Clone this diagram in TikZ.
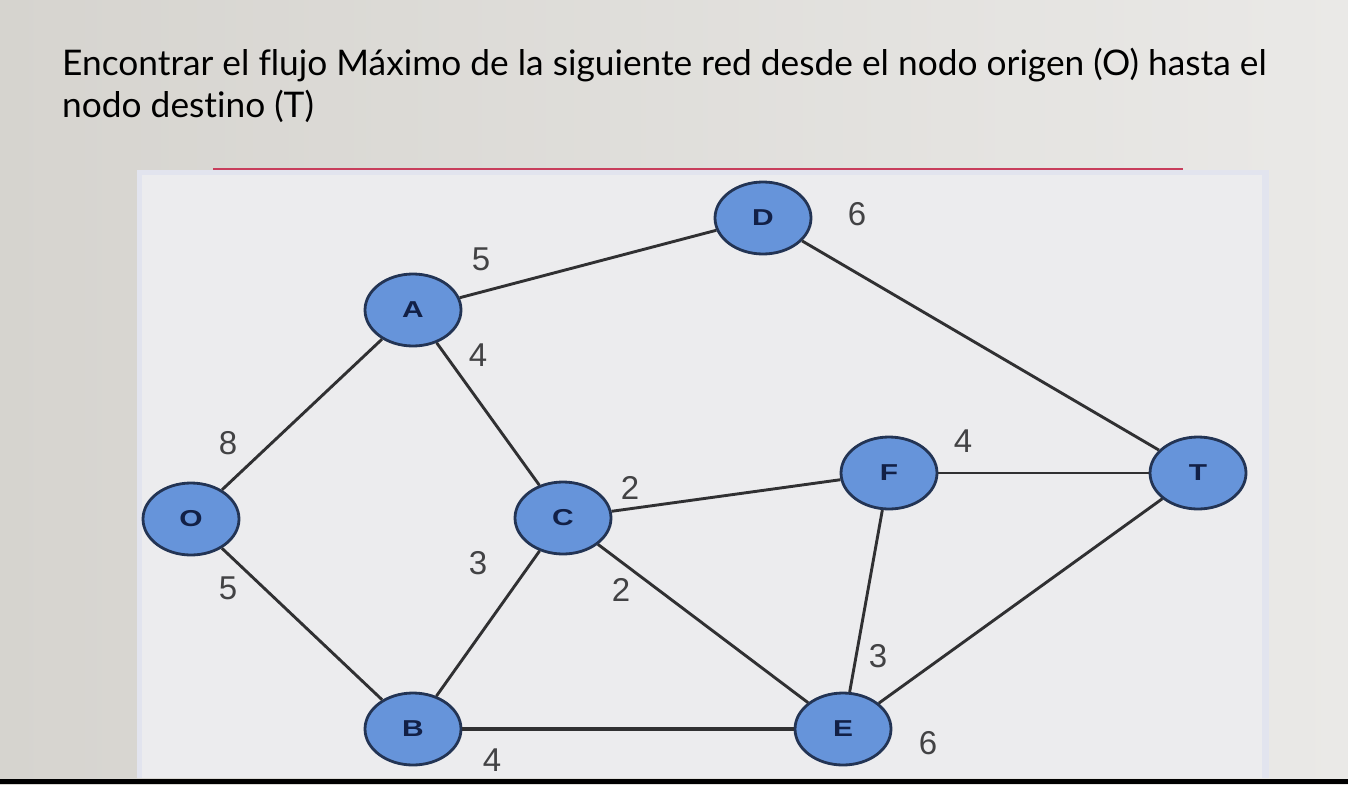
\documentclass[tikz,border=0pt]{standalone}
\usepackage{fontspec}
\setmainfont[Ligatures=NoCommon]{Lato}
\newfontfamily\numfont{Liberation Sans}
\usetikzlibrary{shapes.geometric}
\definecolor{bgL}{RGB}{214,212,207}
\definecolor{bgR}{RGB}{234,233,231}
\definecolor{panel}{RGB}{236,236,238}
\definecolor{panelEdge}{RGB}{226,228,238}
\definecolor{nodefill}{RGB}{102,148,218}
\definecolor{nodeline}{RGB}{35,52,84}
\definecolor{nodetext}{RGB}{18,32,70}
\definecolor{edgecol}{RGB}{48,48,50}
\definecolor{redline}{RGB}{200,62,92}
\definecolor{labcol}{RGB}{66,66,68}
\newcommand{\wideletter}[1]{\scalebox{1.3}[1]{#1}}
\tikzset{
  vert/.style={ellipse, draw=nodeline, line width=2.8pt, fill=nodefill,
    minimum width=96pt, minimum height=72pt, inner sep=0pt,
    font=\numfont\bfseries\fontsize{23}{23}\selectfont, text=nodetext},
  edge/.style={draw=edgecol, line width=2.9pt},
  wt/.style={font=\numfont\fontsize{33}{33}\selectfont, text=labcol, inner sep=0pt},
  title/.style={font=\fontsize{35.3}{44}\selectfont, text=black, anchor=base west, inner sep=0pt}
}
\begin{document}
\begin{tikzpicture}[x=1pt,y=-1pt]
\useasboundingbox (0,0) rectangle (1348,784);
\shade[left color=bgL, right color=bgR] (0,0) rectangle (1348,784);
\fill[panelEdge] (137,170) rectangle (1269,778);
\fill[panel] (142,175) rectangle (1262,778);
\fill[black] (0,779) rectangle (1348,784);
\draw[redline, line width=1.6pt] (213,169) -- (1183,169);
\node[title] (title1) at (62,75) {Encontrar el flujo Máximo de la siguiente red desde el nodo origen (O) hasta el};
\node[title] (title2) at (62,117) {nodo destino (T)};
% nodes
\node[vert] (O) at (191,519) {\wideletter{O}};
\node[vert] (A) at (413,310) {\wideletter{A}};
\node[vert] (D) at (763,218) {\wideletter{D}};
\node[vert] (C) at (563,518) {\wideletter{C}};
\node[vert] (F) at (889,473) {\wideletter{F}};
\node[vert] (T) at (1198,473) {\wideletter{T}};
\node[vert] (B) at (413,729) {\wideletter{B}};
\node[vert] (E) at (843,729) {\wideletter{E}};
% edges
\path[edge] (O) -- (A);
\path[edge] (O) -- (B);
\path[edge] (A) -- (D);
\path[edge] (A) -- (C);
\path[edge] (D) -- (T);
\path[edge] (C) -- (F);
\path[edge] (C) -- (B);
\path[edge] (C) -- (E);
\path[edge] (F) -- (T);
\path[edge] (F) -- (E);
\path[edge, line width=4pt] (B) -- (E);
\path[edge] (E) -- (T);
% weights
\node[wt] (w1) at (481,259) {5};
\node[wt] (w2) at (478,355) {4};
\node[wt] (w3) at (857,214) {6};
\node[wt] (w4) at (228,443) {8};
\node[wt] (w5) at (228,588) {5};
\node[wt] (w6) at (630,488) {2};
\node[wt] (w7) at (478,563) {3};
\node[wt] (w8) at (621,590) {2};
\node[wt] (w9) at (963,441) {4};
\node[wt] (w10) at (878,656) {3};
\node[wt] (w11) at (928,743) {6};
\node[wt] (w12) at (492,760) {4};
\end{tikzpicture}
\end{document}
